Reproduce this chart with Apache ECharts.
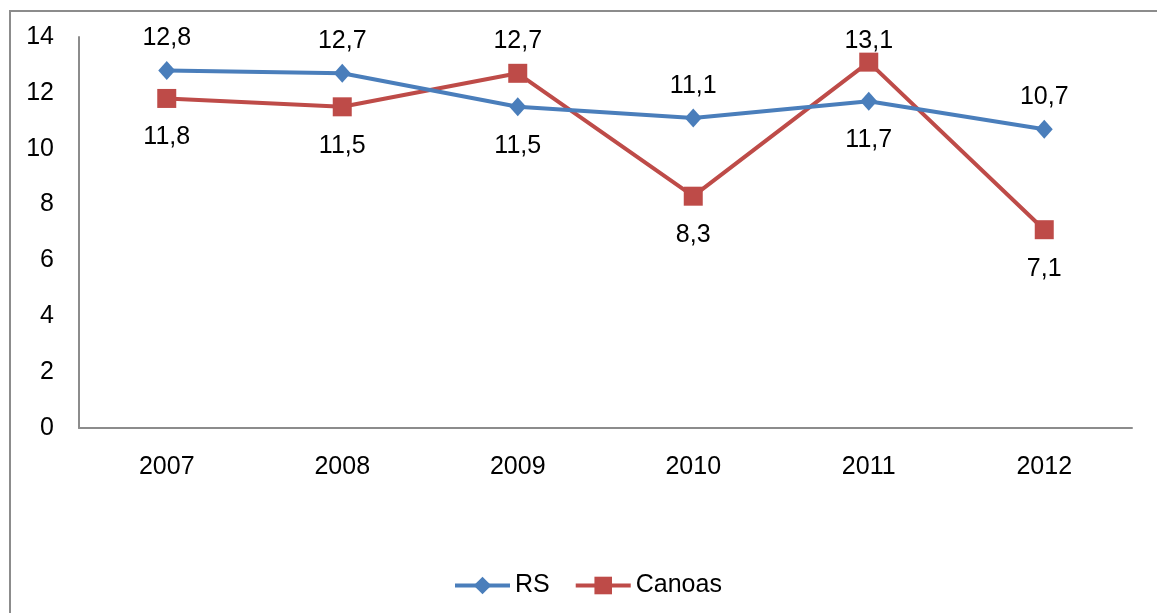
<!DOCTYPE html>
<html>
<head>
<meta charset="utf-8">
<script src="https://cdn.jsdelivr.net/npm/echarts@6/dist/echarts.min.js"></script>
<style>
  html, body { margin: 0; padding: 0; background: #fff; }
  #frame { position: absolute; left: 9px; top: 10px; width: 1160px; height: 620px; border: 2px solid #8c8c8c; box-sizing: border-box; }
  #chart { position: absolute; left: 0; top: 0; width: 1157px; height: 613px; }
</style>
</head>
<body>
<div id="frame"></div>
<div id="chart"></div>
<script>
// Years on the category axis
const years = ['2007', '2008', '2009', '2010', '2011', '2012'];
// Values per series
const rsValues = [12.8, 12.7, 11.5, 11.1, 11.7, 10.7];
const canoasValues = [11.8, 11.5, 12.7, 8.3, 13.1, 7.1];
// Where each value label sits relative to its point
const rsLabelPos = ['top', 'top', 'bottom', 'top', 'bottom', 'top'];
const canoasLabelPos = ['bottom', 'bottom', 'top', 'bottom', 'top', 'bottom'];
// Labels that sit tight against their marker
const tightLabels = { Canoas: ['2011'] };

const FONT = 'Liberation Sans, Arial, sans-serif';
const FS = 25;
const fmt = v => String(v).replace('.', ',');

function points(name, values, positions) {
  const tight = tightLabels[name] || [];
  return values.map((v, i) => {
    let d = positions[i] === 'top' ? 10 : 17;
    if (tight.includes(years[i])) d = -1;
    return { value: v, label: { position: positions[i], distance: d } };
  });
}

const labelBase = {
  show: true,
  fontFamily: FONT,
  fontSize: FS,
  color: '#000',
  formatter: p => fmt(p.value)
};

const chart = echarts.init(document.getElementById('chart'), null, { renderer: 'canvas' });
chart.setOption({
  animation: false,
  textStyle: { fontFamily: FONT },
  grid: { left: 79, right: 25, top: 37, bottom: 185, containLabel: false },
  xAxis: {
    type: 'category',
    data: years,
    boundaryGap: true,
    axisLine: { lineStyle: { color: '#8c8c8c', width: 2 } },
    axisTick: { show: false },
    axisLabel: { margin: 27, fontSize: FS, color: '#000', fontFamily: FONT }
  },
  yAxis: {
    type: 'value',
    min: 0,
    max: 14,
    interval: 2,
    axisLine: { show: true, lineStyle: { color: '#8c8c8c', width: 2 } },
    axisTick: { show: false },
    splitLine: { show: false },
    axisLabel: { margin: 25, fontSize: FS, color: '#000', fontFamily: FONT }
  },
  legend: {
    bottom: 10,
    left: 448,
    itemWidth: 55,
    itemHeight: 22,
    itemGap: 24,
    lineStyle: { width: 4 },
    textStyle: { fontSize: FS, color: '#000', fontFamily: FONT },
    data: ['RS', 'Canoas']
  },
  series: [
    {
      name: 'RS',
      type: 'line',
      data: points('RS', rsValues, rsLabelPos),
      symbol: 'diamond',
      symbolSize: [17, 19],
      lineStyle: { color: '#4a7ebb', width: 4 },
      itemStyle: { color: '#4a7ebb' },
      label: labelBase,
      z: 3
    },
    {
      name: 'Canoas',
      type: 'line',
      data: points('Canoas', canoasValues, canoasLabelPos),
      symbol: 'rect',
      symbolSize: 19,
      lineStyle: { color: '#be4b48', width: 4 },
      itemStyle: { color: '#be4b48' },
      label: labelBase,
      z: 2
    }
  ]
});
</script>
</body>
</html>
